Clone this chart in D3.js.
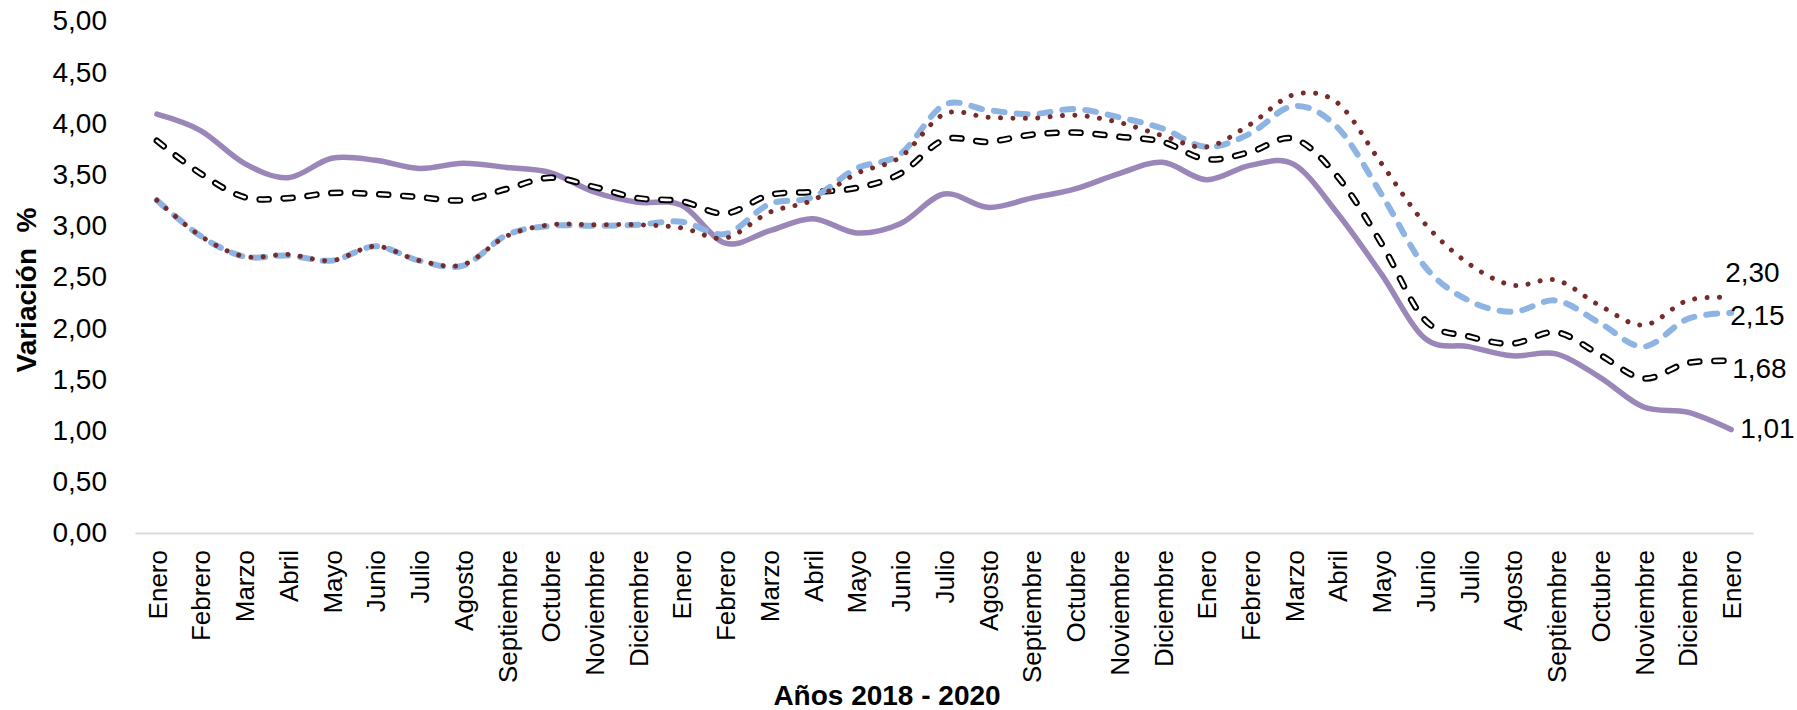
<!DOCTYPE html>
<html>
<head>
<meta charset="utf-8">
<script src="https://cdn.jsdelivr.net/npm/d3@7"></script>
<style>
  html, body { margin: 0; padding: 0; background: #fff; }
  svg { display: block; }
  text { font-family: "Liberation Sans", Arial, sans-serif; fill: #000; }
</style>
</head>
<body>
<svg id="chart" width="1797" height="710"></svg>
<script>
// ---- Data ----
const categories = ["Enero","Febrero","Marzo","Abril","Mayo","Junio","Julio","Agosto","Septiembre","Octubre","Noviembre","Diciembre",
  "Enero","Febrero","Marzo","Abril","Mayo","Junio","Julio","Agosto","Septiembre","Octubre","Noviembre","Diciembre",
  "Enero","Febrero","Marzo","Abril","Mayo","Junio","Julio","Agosto","Septiembre","Octubre","Noviembre","Diciembre",
  "Enero"];

const seriesPurple = [4.09, 3.93, 3.61, 3.47, 3.66, 3.64, 3.56, 3.61, 3.57, 3.52, 3.33, 3.23,
  3.20, 2.83, 2.95, 3.07, 2.93, 3.02, 3.31, 3.18, 3.27, 3.36, 3.51, 3.62,
  3.45, 3.59, 3.60, 3.12, 2.53, 1.90, 1.82, 1.73, 1.75, 1.52, 1.23, 1.18, 1.01];

const seriesBlack = [3.83, 3.51, 3.28, 3.27, 3.32, 3.31, 3.28, 3.25, 3.36, 3.47, 3.38, 3.27,
  3.24, 3.12, 3.30, 3.33, 3.37, 3.51, 3.84, 3.82, 3.89, 3.91, 3.87, 3.82,
  3.65, 3.72, 3.85, 3.48, 2.83, 2.08, 1.92, 1.85, 1.96, 1.74, 1.51, 1.66, 1.68];

const seriesBlue = [3.25, 2.90, 2.70, 2.71, 2.66, 2.80, 2.66, 2.61, 2.91, 3.00, 3.00, 3.01,
  3.04, 2.92, 3.21, 3.28, 3.56, 3.70, 4.18, 4.13, 4.09, 4.14, 4.06, 3.95,
  3.77, 3.90, 4.17, 3.96, 3.31, 2.60, 2.27, 2.16, 2.27, 2.05, 1.82, 2.09, 2.15];

const seriesRed = [3.25, 2.90, 2.70, 2.72, 2.66, 2.80, 2.66, 2.62, 2.90, 3.01, 3.01, 3.01,
  2.98, 2.88, 3.13, 3.25, 3.51, 3.67, 4.09, 4.06, 4.05, 4.08, 4.01, 3.88,
  3.77, 3.99, 4.28, 4.20, 3.61, 3.02, 2.63, 2.42, 2.47, 2.22, 2.03, 2.27, 2.30];

const endLabels = ["2,30", "2,15", "1,68", "1,01"];
const yTickValues = [0, 0.5, 1, 1.5, 2, 2.5, 3, 3.5, 4, 4.5, 5];
const yTitle = "Variación  %";
const xTitle = "Años 2018 - 2020";

// ---- Layout ----
const svg = d3.select("#chart");
const x = d3.scalePoint().domain(d3.range(categories.length)).range([135, 1753]).padding(0.5);
const y = d3.scaleLinear().domain([0, 5]).range([533, 21]);
const fmt = v => d3.format(".2f")(v).replace(".", ",");

// x axis line
const xAxis = d3.axisBottom(x).tickSize(0).tickFormat(i => categories[i]);
const gx = svg.append("g").attr("transform", "translate(0,533)").call(xAxis);
gx.select(".domain").attr("stroke", "#d9d9d9").attr("stroke-width", 2);
gx.selectAll("text")
  .attr("transform", "rotate(-90)")
  .attr("x", -17).attr("y", 0).attr("dy", "0.36em")
  .style("text-anchor", "end")
  .style("font-size", "26px")
  .style("font-family", "'Liberation Sans', Arial, sans-serif")
  .attr("fill", "#000");

// y axis labels only
const yAxis = d3.axisLeft(y).tickValues(yTickValues).tickSize(0).tickFormat(fmt);
const gy = svg.append("g").attr("transform", "translate(135,0)").call(yAxis);
gy.select(".domain").remove();
gy.selectAll("text")
  .attr("x", -28)
  .style("font-size", "28px")
  .style("font-family", "'Liberation Sans', Arial, sans-serif")
  .attr("fill", "#000");

// titles
svg.append("text")
  .attr("transform", "translate(36,290) rotate(-90)")
  .attr("text-anchor", "middle")
  .style("font-size", "28px").style("font-weight", "bold")
  .style("white-space", "pre")
  .text(yTitle);

svg.append("text")
  .attr("x", 887).attr("y", 705)
  .attr("text-anchor", "middle")
  .style("font-size", "28px").style("font-weight", "bold")
  .text(xTitle);

// lines
const line = d3.line().x((d, i) => x(i)).y(d => y(d)).curve(d3.curveCardinal.tension(0));

const g = svg.append("g").attr("fill", "none");

// purple solid
g.append("path").datum(seriesPurple).attr("d", line)
  .attr("stroke", "#9a86b8").attr("stroke-width", 5.5).attr("stroke-linejoin", "round").attr("stroke-linecap", "round");

// black outlined dashes
g.append("path").datum(seriesBlack).attr("d", line)
  .attr("stroke", "#000").attr("stroke-width", 6.5).attr("stroke-linecap", "round")
  .attr("stroke-dasharray", "9 15");
g.append("path").datum(seriesBlack).attr("d", line)
  .attr("stroke", "#fff").attr("stroke-width", 2.6).attr("stroke-linecap", "round")
  .attr("stroke-dasharray", "9 15");

// blue dashed
g.append("path").datum(seriesBlue).attr("d", line)
  .attr("stroke", "#8db4e2").attr("stroke-width", 6).attr("stroke-linecap", "round")
  .attr("stroke-dasharray", "11 12");

// dark red dotted
g.append("path").datum(seriesRed).attr("d", line)
  .attr("stroke", "#772c2a").attr("stroke-width", 5).attr("stroke-linecap", "round")
  .attr("stroke-dasharray", "0.01 12.4");

// end labels
const last = categories.length - 1;
const labelData = [
  { v: seriesRed[last], t: endLabels[0], dx: -6, dy: -25 },
  { v: seriesBlue[last], t: endLabels[1], dx: -1, dy: 2 },
  { v: seriesBlack[last], t: endLabels[2], dx: 1, dy: 7 },
  { v: seriesPurple[last], t: endLabels[3], dx: 9, dy: -1.5 }
];
svg.append("g").selectAll("text").data(labelData).join("text")
  .attr("x", d => x(last) + d.dx)
  .attr("y", d => y(d.v) + d.dy)
  .attr("dy", "0.35em")
  .style("font-size", "28px")
  .text(d => d.t);
</script>
</body>
</html>
